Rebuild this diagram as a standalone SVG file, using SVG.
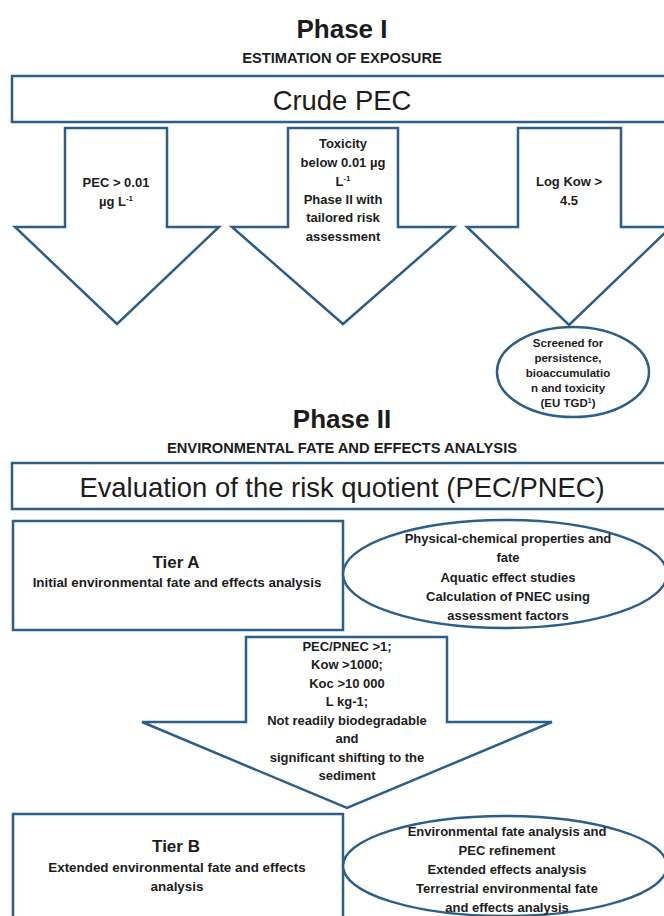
<svg xmlns="http://www.w3.org/2000/svg" width="664" height="916" viewBox="0 0 664 916">
  <style>
    .shape { fill: #ffffff; stroke: #2c5f88; stroke-width: 2.5; }
    text { font-family: "Liberation Sans Narrow", "Liberation Sans", Arial, sans-serif; fill: #1c1c1c; text-anchor: middle; }
    .title { font-size: 26px; font-weight: bold; }
    .sub { font-size: 14.7px; font-weight: bold; }
    .big { font-size: 27.4px; }
    .lbl { font-size: 13px; font-weight: bold; }
    .desc { font-size: 13.4px; font-weight: bold; }
    .small { font-size: 11.5px; font-weight: bold; }
    .tier { font-size: 17px; font-weight: bold; }
  </style>
  <rect width="664" height="916" fill="#ffffff"/>

  <!-- Phase I heading -->
  <g id="phase1-title">
    <text class="title" x="342" y="38">Phase I</text>
    <text class="sub" x="342" y="63">ESTIMATION OF EXPOSURE</text>
  </g>

  <g id="crude-pec">
    <rect class="shape" x="12" y="76" width="660" height="46"/>
    <text class="big" x="342" y="110">Crude PEC</text>
  </g>

  <!-- Block arrows -->
  <g id="connectors">
    <g id="arrow-pec">
      <path class="shape" d="M65,128 H167 V227 H219 L117,324 L15,227 H65 Z"/>
      <text class="lbl" x="116" y="187">PEC &gt; 0.01</text>
      <text class="lbl" x="116" y="206">µg L<tspan font-size="8" dy="-5">-1</tspan></text>
    </g>
    <g id="arrow-toxicity">
      <path class="shape" d="M288,128 H398 V227 H454 L343,324 L232,227 H288 Z"/>
      <text class="lbl" x="343" y="148">Toxicity</text>
      <text class="lbl" x="343" y="167">below 0.01 µg</text>
      <text class="lbl" x="343" y="186">L<tspan font-size="8" dy="-5">-1</tspan></text>
      <text class="lbl" x="343" y="204">Phase II with</text>
      <text class="lbl" x="343" y="222">tailored risk</text>
      <text class="lbl" x="343" y="241">assessment</text>
    </g>
    <g id="arrow-kow">
      <path class="shape" d="M518,128 H621 V227 H671 L569,325 L467,227 H518 Z"/>
      <text class="lbl" x="569" y="186">Log Kow &gt;</text>
      <text class="lbl" x="569" y="205">4.5</text>
    </g>
    <g id="arrow-tier">
      <path class="shape" d="M246,637 H447 V722 H552 L347,808 L142,722 H246 Z"/>
      <text class="lbl" x="347" y="651">PEC/PNEC &gt;1;</text>
      <text class="lbl" x="347" y="669">Kow &gt;1000;</text>
      <text class="lbl" x="347" y="688">Koc &gt;10 000</text>
      <text class="lbl" x="347" y="706">L kg-1;</text>
      <text class="lbl" x="347" y="725">Not readily biodegradable</text>
      <text class="lbl" x="347" y="743">and</text>
      <text class="lbl" x="347" y="762">significant shifting to the</text>
      <text class="lbl" x="347" y="780">sediment</text>
    </g>
  </g>

  <g id="pbt-screen">
    <ellipse class="shape" cx="573" cy="372" rx="76" ry="45"/>
    <text class="small" x="568" y="347">Screened for</text>
    <text class="small" x="568" y="362">persistence,</text>
    <text class="small" x="568" y="377">bioaccumulatio</text>
    <text class="small" x="568" y="392">n and toxicity</text>
    <text class="small" x="568" y="407">(EU TGD<tspan font-size="7" dy="-4">1</tspan><tspan dy="4">)</tspan></text>
  </g>

  <!-- Phase II heading -->
  <g id="phase2-title">
    <text class="title" x="342" y="428">Phase II</text>
    <text class="sub" x="342" y="453">ENVIRONMENTAL FATE AND EFFECTS ANALYSIS</text>
  </g>

  <g id="risk-quotient">
    <rect class="shape" x="12" y="463" width="660" height="46"/>
    <text class="big" x="342" y="497">Evaluation of the risk quotient (PEC/PNEC)</text>
  </g>

  <g id="tier-a">
    <rect class="shape" x="13" y="521" width="330" height="109"/>
    <text class="tier" x="176" y="568">Tier A</text>
    <text class="desc" x="177" y="587">Initial environmental fate and effects analysis</text>
  </g>

  <g id="tier-a-studies">
    <ellipse class="shape" cx="505" cy="574" rx="162" ry="54"/>
    <text class="lbl" x="508" y="543">Physical-chemical properties and</text>
    <text class="lbl" x="508" y="562">fate</text>
    <text class="lbl" x="508" y="582">Aquatic effect studies</text>
    <text class="lbl" x="508" y="601">Calculation of PNEC using</text>
    <text class="lbl" x="508" y="620">assessment factors</text>
  </g>

  <g id="tier-b">
    <rect class="shape" x="13" y="814" width="330" height="120"/>
    <text class="tier" x="176" y="852">Tier B</text>
    <text class="desc" x="177" y="872">Extended environmental fate and effects</text>
    <text class="desc" x="177" y="891">analysis</text>
  </g>

  <g id="tier-b-studies">
    <ellipse class="shape" cx="505" cy="866" rx="162" ry="50"/>
    <text class="lbl" x="507" y="836">Environmental fate analysis and</text>
    <text class="lbl" x="507" y="855">PEC refinement</text>
    <text class="lbl" x="507" y="874">Extended effects analysis</text>
    <text class="lbl" x="507" y="893">Terrestrial environmental fate</text>
    <text class="lbl" x="507" y="912">and effects analysis</text>
  </g>
</svg>
